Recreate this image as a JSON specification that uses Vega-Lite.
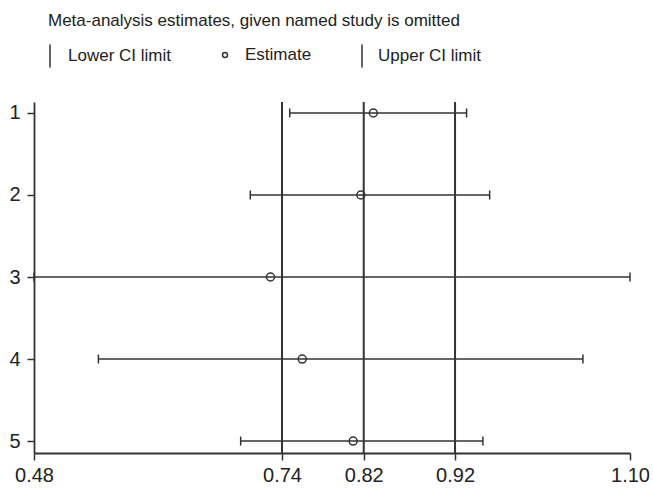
{
  "$schema": "https://vega.github.io/schema/vega-lite/v6.json",
  "width": 596,
  "height": 351,
  "autosize": {"type": "none"},
  "padding": {"left": 34, "top": 102, "right": 23, "bottom": 35},
  "title": {
    "text": "Meta-analysis estimates, given named study is omitted",
    "anchor": "start",
    "frame": "group",
    "dx": 14,
    "offset": 14,
    "fontSize": 17,
    "fontWeight": "normal",
    "font": "Liberation Sans",
    "color": "#222222"
  },
  "datasets": {
    "studies": [
      {"study": 1, "Lower CI limit": 0.746, "Estimate": 0.833, "Upper CI limit": 0.930},
      {"study": 2, "Lower CI limit": 0.705, "Estimate": 0.820, "Upper CI limit": 0.954},
      {"study": 3, "Lower CI limit": 0.480, "Estimate": 0.726, "Upper CI limit": 1.100},
      {"study": 4, "Lower CI limit": 0.547, "Estimate": 0.759, "Upper CI limit": 1.051},
      {"study": 5, "Lower CI limit": 0.695, "Estimate": 0.812, "Upper CI limit": 0.947}
    ],
    "overall": [{"value": 0.738}, {"value": 0.823}, {"value": 0.918}]
  },
  "config": {
    "view": {"stroke": null},
    "font": "Liberation Sans",
    "axis": {
      "grid": false,
      "title": null,
      "domainColor": "#333333",
      "domainWidth": 1.8,
      "tickColor": "#333333",
      "tickWidth": 1.5,
      "tickSize": 7,
      "labelFontSize": 20,
      "labelColor": "#222222",
      "labelFont": "Liberation Sans",
      "labelFlush": false
    },
    "legend": {
      "orient": "none",
      "title": null,
      "labelFontSize": 17,
      "labelColor": "#222222",
      "labelLimit": 300,
      "symbolStrokeColor": "#333333",
      "symbolStrokeWidth": 1.5,
      "symbolFillColor": "transparent"
    }
  },
  "resolve": {"scale": {"shape": "independent"}, "legend": {"shape": "independent"}},
  "layer": [
    {
      "data": {"name": "overall"},
      "mark": {"type": "rule", "color": "#333333", "strokeWidth": 2},
      "encoding": {
        "x": {
          "field": "value",
          "type": "quantitative",
          "scale": {"domain": [0.48, 1.1], "nice": false, "zero": false},
          "axis": {"values": [0.48, 0.738, 0.823, 0.918, 1.1], "format": ".2f", "labelPadding": 5, "labelFlush": false}
        }
      }
    },
    {
      "data": {"name": "studies"},
      "mark": {"type": "rule", "color": "#333333", "strokeWidth": 1.5},
      "encoding": {
        "x": {"field": "Lower CI limit", "type": "quantitative"},
        "x2": {"field": "Upper CI limit"},
        "y": {
          "field": "study",
          "type": "quantitative",
          "scale": {"domain": [0.866, 5.146], "reverse": true, "nice": false, "zero": false},
          "axis": {"values": [1, 2, 3, 4, 5], "format": "d", "labelPadding": 7}
        }
      }
    },
    {
      "data": {"name": "studies"},
      "mark": {"type": "point", "filled": false, "size": 81, "strokeWidth": 1.5, "color": "#333333", "opacity": 1},
      "encoding": {
        "x": {"field": "Lower CI limit", "type": "quantitative"},
        "y": {"field": "study", "type": "quantitative"},
        "shape": {
          "datum": "Lower CI limit",
          "scale": {"range": ["M0,-1L0,1"]},
          "legend": {"orient": "none", "title": null, "legendX": 3.5, "legendY": -58.5, "symbolSize": 529, "labelOffset": 5.5}
        }
      }
    },
    {
      "data": {"name": "studies"},
      "mark": {"type": "point", "filled": false, "size": 64, "strokeWidth": 1.5, "color": "#333333", "opacity": 1},
      "encoding": {
        "x": {"field": "Estimate", "type": "quantitative"},
        "y": {"field": "study", "type": "quantitative"},
        "shape": {
          "datum": "Estimate",
          "scale": {"range": ["circle"]},
          "legend": {"orient": "none", "title": null, "legendX": 182.5, "legendY": -55.5, "symbolSize": 25, "labelOffset": 11.5}
        }
      }
    },
    {
      "data": {"name": "studies"},
      "mark": {"type": "point", "filled": false, "size": 81, "strokeWidth": 1.5, "color": "#333333", "opacity": 1},
      "encoding": {
        "x": {"field": "Upper CI limit", "type": "quantitative"},
        "y": {"field": "study", "type": "quantitative"},
        "shape": {
          "datum": "Upper CI limit",
          "scale": {"range": ["M0,-1L0,1"]},
          "legend": {"orient": "none", "title": null, "legendX": 315.5, "legendY": -58.5, "symbolSize": 529, "labelOffset": 3.5}
        }
      }
    }
  ]
}
